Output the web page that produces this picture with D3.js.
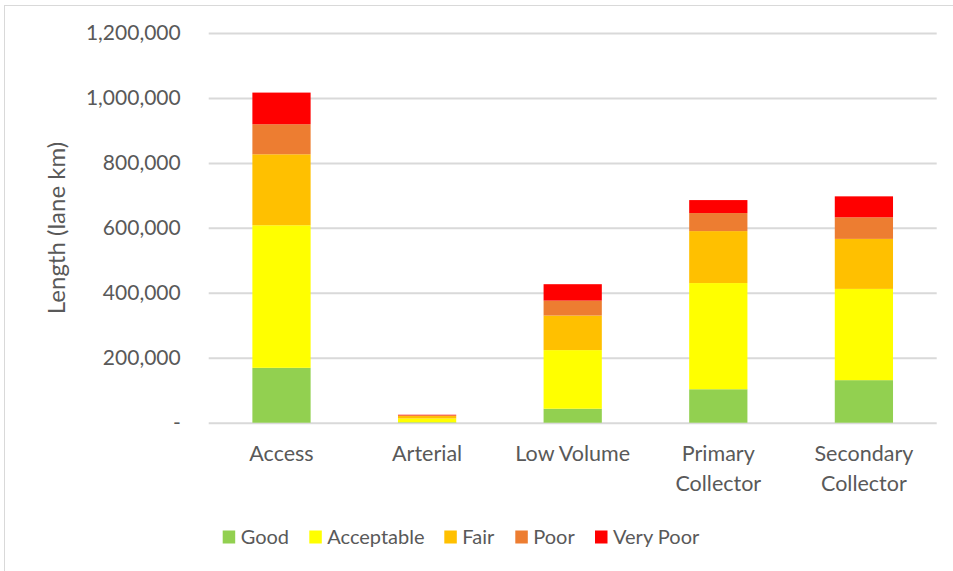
<!DOCTYPE html>
<html>
<head>
<meta charset="utf-8">
<script src="https://cdn.jsdelivr.net/npm/d3@7"></script>
<style>
  html, body { margin: 0; padding: 0; background: #fff; }
  svg { display: block; }
  text { font-family: Lato, "Open Sans", sans-serif; fill: #595959; }
</style>
</head>
<body>
<svg id="chart" width="953" height="571"></svg>
<script>
// Road classes and pavement condition lengths (lane km)
const categories = ["Access", "Arterial", "Low Volume", "Primary Collector", "Secondary Collector"];
const categoryLines = [["Access"], ["Arterial"], ["Low Volume"], ["Primary", "Collector"], ["Secondary", "Collector"]];
const conditions = ["Good", "Acceptable", "Fair", "Poor", "Very Poor"];
const good       = [169000,  1500,  43000, 103000, 131000];
const acceptable = [439000, 11500, 180500, 327000, 281000];
const fair       = [218500,  7500, 106500, 160000, 154000];
const poor       = [ 92500,  2500,  46000,  55500,  66500];
const veryPoor   = [ 97500,  1500,  50500,  40000,  64500];
const yTicks = [0, 200000, 400000, 600000, 800000, 1000000, 1200000];
const colors = ["#92d050", "#ffff00", "#ffc000", "#ed7d31", "#ff0000"];

const seriesValues = [good, acceptable, fair, poor, veryPoor];
const rows = categories.map((c, i) => {
  const r = { category: c };
  conditions.forEach((k, j) => { r[k] = seriesValues[j][i]; });
  return r;
});

const svg = d3.select("#chart");
const W = 953, H = 571;
const plot = { left: 208.7, right: 936.7, top: 33, bottom: 422.7 };

// Outer chart frame
svg.append("rect")
  .attr("x", 4.5).attr("y", 5.5)
  .attr("width", W + 10).attr("height", H + 10)
  .attr("fill", "none").attr("stroke", "#d9d9d9").attr("stroke-width", 1);

const x = d3.scaleBand()
  .domain(categories)
  .range([plot.left, plot.right])
  .paddingInner(0.6)
  .paddingOuter(0.3);

const y = d3.scaleLinear()
  .domain([0, 1200000])
  .range([plot.bottom, plot.top]);

// Gridlines and tick labels
const yAxis = d3.axisLeft(y)
  .tickValues(yTicks)
  .tickSize(-(plot.right - plot.left))
  .tickPadding(28)
  .tickFormat(d => d === 0 ? "-" : d3.format(",")(d));

const gy = svg.append("g")
  .attr("transform", `translate(${plot.left},0)`)
  .call(yAxis);
gy.select(".domain").remove();
gy.selectAll(".tick line").attr("stroke", "#d9d9d9").attr("stroke-width", 2);
gy.selectAll(".tick text")
  .attr("font-size", 21)
  .attr("font-family", "Lato, sans-serif")
  .attr("fill", "#595959");

// Stacked bars
const stack = d3.stack().keys(conditions);
const layers = stack(rows);

svg.append("g").selectAll("g")
  .data(layers)
  .join("g")
  .attr("fill", (d, i) => colors[i])
  .selectAll("rect")
  .data(d => d)
  .join("rect")
  .attr("x", d => x(d.data.category))
  .attr("width", x.bandwidth())
  .attr("y", d => y(d[1]))
  .attr("height", d => y(d[0]) - y(d[1]));

// Category labels
const xl = svg.append("g");
categories.forEach((c, i) => {
  const t = xl.append("text")
    .attr("x", x(c) + x.bandwidth() / 2)
    .attr("y", 461)
    .attr("text-anchor", "middle")
    .attr("font-size", 21.5);
  categoryLines[i].forEach((line, k) => {
    t.append("tspan")
      .attr("x", x(c) + x.bandwidth() / 2)
      .attr("dy", k === 0 ? 0 : 29.5)
      .text(line);
  });
});

// Axis title
svg.append("text")
  .attr("transform", "translate(65,228) rotate(-90)")
  .attr("text-anchor", "middle")
  .attr("font-size", 24)
  .text("Length (lane km)");

// Legend
const legendX = [222.7, 309.3, 444.3, 515.3, 595];
const lg = svg.append("g");
conditions.forEach((k, i) => {
  lg.append("rect")
    .attr("x", legendX[i]).attr("y", 530.5)
    .attr("width", 12.5).attr("height", 13)
    .attr("fill", colors[i]);
  lg.append("text")
    .attr("x", legendX[i] + 18)
    .attr("y", 544)
    .attr("font-size", 20)
    .text(k);
});
</script>
</body>
</html>
